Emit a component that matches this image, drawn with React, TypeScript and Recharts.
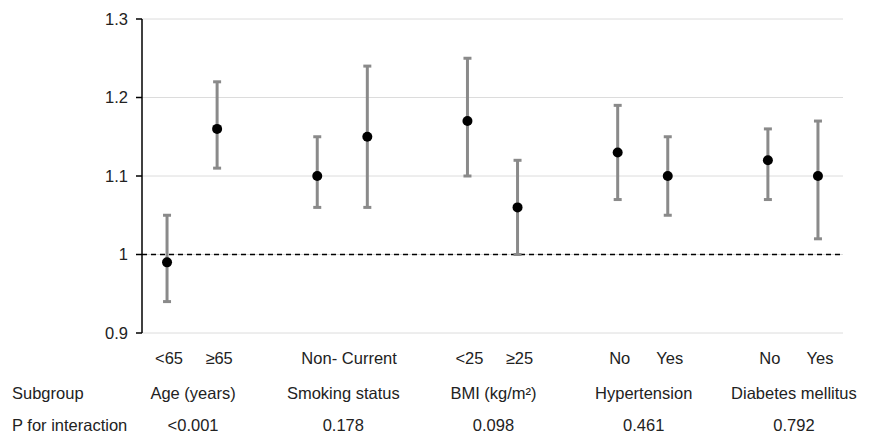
import React from 'react';
import { ComposedChart, Line, ErrorBar, XAxis, YAxis, CartesianGrid, ReferenceLine } from 'recharts';

const groupNames = ['Age (years)', 'Smoking status', 'BMI (kg/m²)', 'Hypertension', 'Diabetes mellitus'];
const pValues = ['<0.001', '0.178', '0.098', '0.461', '0.792'];
const subgroupLabels = [['<65', '≥65'], ['Non-', 'Current'], ['<25', '≥25'], ['No', 'Yes'], ['No', 'Yes']];
const estimates = [[0.99, 1.16], [1.10, 1.15], [1.17, 1.06], [1.13, 1.10], [1.12, 1.10]];
const lowerCI = [[0.94, 1.11], [1.06, 1.06], [1.10, 1.00], [1.07, 1.05], [1.07, 1.02]];
const upperCI = [[1.05, 1.22], [1.15, 1.24], [1.25, 1.12], [1.19, 1.15], [1.16, 1.17]];
const yTicks = [0.9, 1, 1.1, 1.2, 1.3];

type Row = { key: string; label: string; est: number | null; err: [number, number] | null; group: number; first: boolean };

const data: Row[] = [];
groupNames.forEach((g, gi) => {
  if (gi > 0) data.push({ key: 'gap' + gi, label: '', est: null, err: null, group: -1, first: false });
  subgroupLabels[gi].forEach((lab, si) => {
    const e = estimates[gi][si];
    data.push({
      key: 'g' + gi + 's' + si,
      label: lab,
      est: e,
      err: [+(e - lowerCI[gi][si]).toFixed(3), +(upperCI[gi][si] - e).toFixed(3)],
      group: gi,
      first: si === 0,
    });
  });
});

const W = 874;
const H = 438;
const M = { top: 19, right: 31, left: 0, bottom: 0 };
const Y_W = 142;
const plotW = W - M.right - Y_W;
const slot = plotW / data.length;
const FONT = 'Liberation Sans, Arial, sans-serif';
const FS = 16.5;
const TXT = '#222';

const XTick = (props: any) => {
  const { x, y, payload } = props;
  const row = data[payload.index];
  if (!row) return null;
  return (
    <g>
      {row.label !== '' && (
        <text x={x + 2} y={y + 31} textAnchor="middle" fontSize={FS} fontFamily={FONT} fill={TXT}>
          {row.label}
        </text>
      )}
      {row.first && (
        <>
          <text x={x + slot / 2 + 1} y={y + 66} textAnchor="middle" fontSize={FS} fontFamily={FONT} fill={TXT}>
            {groupNames[row.group]}
          </text>
          <text x={x + slot / 2 + 1} y={y + 98} textAnchor="middle" fontSize={FS} fontFamily={FONT} fill={TXT}>
            {pValues[row.group]}
          </text>
        </>
      )}
      {payload.index === 0 && (
        <>
          <text x={12} y={y + 66} fontSize={FS} fontFamily={FONT} fill={TXT}>Subgroup</text>
          <text x={12} y={y + 98} fontSize={FS} fontFamily={FONT} fill={TXT}>P for interaction</text>
        </>
      )}
    </g>
  );
};

export default function App() {
  return (
    <div style={{ position: 'absolute', left: 0, top: 0, width: W, height: H, background: '#fff' }}>
      <ComposedChart width={W} height={H} data={data} margin={M}>
        <CartesianGrid horizontal vertical={false} stroke="#dcdcdc" strokeWidth={1} />
        <XAxis
          dataKey="key"
          type="category"
          axisLine={false}
          tickLine={false}
          tickSize={0}
          tickMargin={0}
          height={H - 333}
          interval={0}
          padding={{ left: slot / 2, right: slot / 2 }}
          tick={<XTick />}
        />
        <YAxis
          type="number"
          domain={[0.9, 1.3]}
          ticks={yTicks}
          width={Y_W}
          axisLine={{ stroke: '#000', strokeWidth: 1.5 }}
          tickLine={{ stroke: '#000', strokeWidth: 1.5 }}
          tickSize={6}
          tickMargin={8}
          tick={{ fontSize: FS, fontFamily: FONT, fill: TXT }}
        />
        <ReferenceLine y={1} stroke="#000" strokeWidth={1.3} strokeDasharray="5 4" />
        <Line
          dataKey="est"
          stroke="none"
          isAnimationActive={false}
          activeDot={false}
          dot={{ r: 5, fill: '#000', stroke: '#000', strokeWidth: 0 }}
          connectNulls={false}
        >
          <ErrorBar dataKey="err" direction="y" width={4} stroke="#8a8a8a" strokeWidth={3} />
        </Line>
      </ComposedChart>
    </div>
  );
}
